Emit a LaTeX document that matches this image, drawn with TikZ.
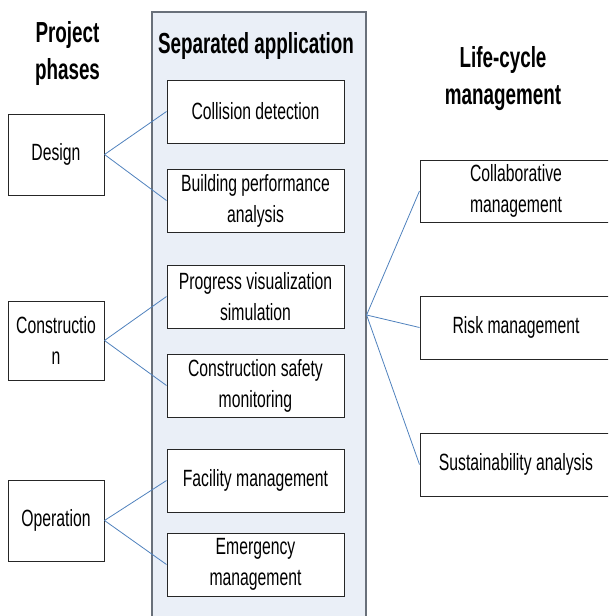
\documentclass[tikz,border=0pt]{standalone}
\usepackage{fontspec}
\setmainfont[FakeStretch=0.67]{Liberation Sans}
\newfontfamily\titlefont[FakeStretch=0.65]{Liberation Sans Bold}
\definecolor{colfill}{RGB}{234,239,247}
\definecolor{colline}{RGB}{105,112,122}
\definecolor{conn}{RGB}{79,129,189}
\begin{document}
\begin{tikzpicture}[x=1pt,y=-1pt,
  box/.style={draw=black!85, line width=1pt, fill=white, align=center, inner sep=0pt,
    font=\fontsize{23.5}{31}\selectfont},
  appbox/.style={box, minimum width=177pt, minimum height=63pt},
  phasebox/.style={box, minimum width=96pt},
  lcbox/.style={box, minimum width=192pt, minimum height=63pt},
  title/.style={align=center, inner sep=0pt, font=\titlefont\fontsize{29}{37}\selectfont},
  link/.style={draw=conn, line width=0.8pt}]
\useasboundingbox (0,0) rectangle (608,616);
\clip (0,0) rectangle (608,616);
% column
\node[draw=colline, fill=colfill, line width=1.2pt, minimum width=214pt, minimum height=606pt, inner sep=0pt] (col) at (259,315) {};
% titles
\node[title] (tphase) at (67.5,54) {Project\\phases};
\node[title, anchor=base] (tapp) at (256,53) {Separated application};
\node[title] (tlc) at (503,79) {Life-cycle\\management};
% application boxes
\node[appbox] (collision) at (255.5,111.5) {Collision detection};
\node[appbox] (building) at (255.5,200.5) {Building performance\\analysis};
\node[appbox] (progress) at (255.5,296.5) {Progress visualization\\simulation};
\node[appbox] (safety) at (255.5,385.5) {Construction safety\\monitoring};
\node[appbox] (facility) at (255.5,480.5) {Facility management};
\node[appbox] (emergency) at (255.5,564.5) {Emergency\\management};
% phase boxes
\node[phasebox, minimum height=81pt] (design) at (56,154.5) {Design};
\node[phasebox, minimum height=79pt] (construction) at (56,340.5) {Constructio\\n};
\node[phasebox, minimum height=81pt] (operation) at (56,520.5) {Operation};
% life-cycle boxes
\node[lcbox, minimum height=62pt] (collab) at (516,191) {Collaborative\\management};
\node[lcbox] (risk) at (516,327.5) {Risk management};
\node[lcbox] (sustain) at (516,464.5) {Sustainability analysis};
% connectors
\draw[link] (design.east) -- (collision.west);
\draw[link] (design.east) -- (building.west);
\draw[link] (construction.east) -- (progress.west);
\draw[link] (construction.east) -- (safety.west);
\draw[link] (operation.east) -- (facility.west);
\draw[link] (operation.east) -- (emergency.west);
\draw[link] (col.east) -- (collab.west);
\draw[link] (col.east) -- (risk.west);
\draw[link] (col.east) -- (sustain.west);
\end{tikzpicture}
\end{document}
